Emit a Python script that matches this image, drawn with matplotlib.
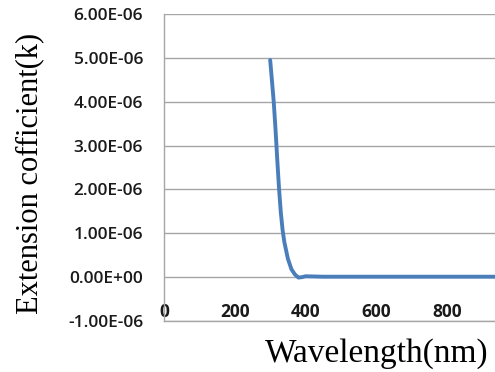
import numpy as np
import matplotlib.pyplot as plt
from matplotlib.ticker import FuncFormatter

# Datos
wavelength = [300, 305, 310, 315, 320, 325, 330, 335, 340, 350, 360, 370, 380, 390, 400,
              450, 500, 600, 700, 800, 900, 1000]
k_values = [4.95e-6, 4.48e-6, 4.00e-6, 3.38e-6, 2.68e-6, 2.02e-6, 1.48e-6, 1.08e-6, 0.80e-6,
            0.42e-6, 0.18e-6, 0.06e-6, -0.01e-6, 0.0, 0.02e-6,
            0.01e-6, 0.01e-6, 0.01e-6, 0.01e-6, 0.01e-6, 0.01e-6, 0.01e-6]

x_ticks = [0, 200, 400, 600, 800]
y_ticks = [-1e-6, 0, 1e-6, 2e-6, 3e-6, 4e-6, 5e-6, 6e-6]

def fmt_e(v, pos):
    s = f"{v:.2E}"
    return s

fig = plt.figure(figsize=(4.95, 3.72), dpi=100)
ax = fig.add_axes([164 / 495, 1 - 321 / 372, (495 - 164) / 495, (321 - 14) / 372])

ax.plot(wavelength, k_values, color='#4a7ebb', linewidth=2.8, solid_capstyle='round',
        solid_joinstyle='round')

ax.set_xlim(0, 332 / 0.355)
ax.set_ylim(-1e-6, 6e-6)
ax.set_xticks(x_ticks)
ax.set_yticks(y_ticks)
ax.yaxis.set_major_formatter(FuncFormatter(fmt_e))

ax.grid(True, axis='y', color='#a6a6a6', linewidth=1.0)
ax.set_axisbelow(True)
for side in ['top', 'right']:
    ax.spines[side].set_visible(False)
for side in ['left', 'bottom']:
    ax.spines[side].set_color('#a6a6a6')
    ax.spines[side].set_linewidth(1.0)

ax.tick_params(axis='x', length=0, pad=-13)
ax.tick_params(axis='y', length=0, pad=15)
for lab in ax.get_xticklabels():
    lab.set_fontfamily('Open Sans')
    lab.set_fontweight('bold')
    lab.set_fontsize(12.5)
    lab.set_color('#1a1a1a')
for lab in ax.get_yticklabels():
    lab.set_fontfamily('Open Sans')
    lab.set_fontweight('semibold')
    lab.set_fontsize(12.5)
    lab.set_color('#1a1a1a')

fig.text(30 / 495, 1 - 173 / 372, 'Extension cofficient(k)', rotation=90,
         family='Liberation Serif', fontsize=22, ha='center', va='center')
fig.text(377 / 495, 1 - 354 / 372, 'Wavelength(nm)',
         family='Liberation Serif', fontsize=24, ha='center', va='center')

fig.savefig('out.png', dpi=100)
